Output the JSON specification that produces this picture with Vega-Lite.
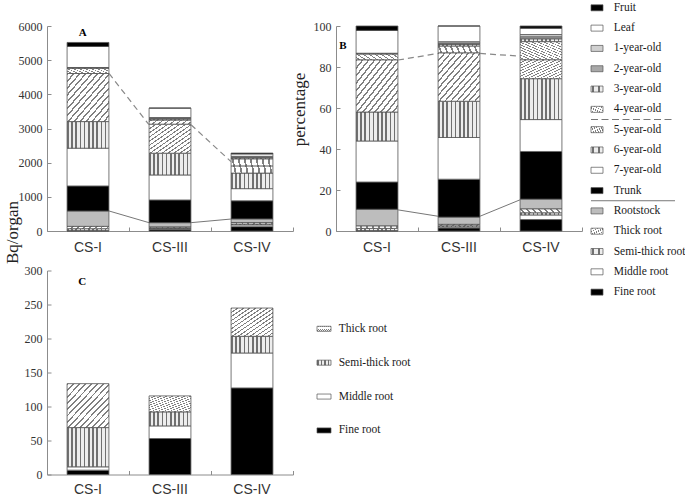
{
"$schema": "https://vega.github.io/schema/vega-lite/v6.json",
"background": "#ffffff",
"padding": {"left": 3, "top": 1, "right": 0, "bottom": 0},
"params": [
  {"name": "vsg", "value": {"gradient": "linear", "x1": 0, "y1": 0, "x2": 1, "y2": 0, "stops": [
      {"offset": 0, "color": "#707070"}, {"offset": 0.04, "color": "#707070"}, {"offset": 0.04, "color": "#ededed"}, {"offset": 0.1, "color": "#ededed"},
      {"offset": 0.1, "color": "#707070"}, {"offset": 0.14, "color": "#707070"}, {"offset": 0.14, "color": "#ededed"}, {"offset": 0.2, "color": "#ededed"},
      {"offset": 0.2, "color": "#707070"}, {"offset": 0.24, "color": "#707070"}, {"offset": 0.24, "color": "#ededed"}, {"offset": 0.3, "color": "#ededed"},
      {"offset": 0.3, "color": "#707070"}, {"offset": 0.34, "color": "#707070"}, {"offset": 0.34, "color": "#ededed"}, {"offset": 0.4, "color": "#ededed"},
      {"offset": 0.4, "color": "#707070"}, {"offset": 0.44, "color": "#707070"}, {"offset": 0.44, "color": "#ededed"}, {"offset": 0.5, "color": "#ededed"},
      {"offset": 0.5, "color": "#707070"}, {"offset": 0.54, "color": "#707070"}, {"offset": 0.54, "color": "#ededed"}, {"offset": 0.6, "color": "#ededed"},
      {"offset": 0.6, "color": "#707070"}, {"offset": 0.64, "color": "#707070"}, {"offset": 0.64, "color": "#ededed"}, {"offset": 0.7, "color": "#ededed"},
      {"offset": 0.7, "color": "#707070"}, {"offset": 0.74, "color": "#707070"}, {"offset": 0.74, "color": "#ededed"}, {"offset": 0.8, "color": "#ededed"},
      {"offset": 0.8, "color": "#707070"}, {"offset": 0.84, "color": "#707070"}, {"offset": 0.84, "color": "#ededed"}, {"offset": 0.9, "color": "#ededed"},
      {"offset": 0.9, "color": "#707070"}, {"offset": 0.94, "color": "#707070"}, {"offset": 0.94, "color": "#ededed"}, {"offset": 1, "color": "#ededed"}]}},
  {"name": "bsg", "value": {"gradient": "linear", "x1": 1, "y1": 0, "x2": 0, "y2": 1, "stops": [
      {"offset": 0, "color": "#808080"}, {"offset": 0.0214, "color": "#808080"}, {"offset": 0.0214, "color": "#ffffff"}, {"offset": 0.0714, "color": "#ffffff"},
      {"offset": 0.0714, "color": "#808080"}, {"offset": 0.0929, "color": "#808080"}, {"offset": 0.0929, "color": "#ffffff"}, {"offset": 0.1429, "color": "#ffffff"},
      {"offset": 0.1429, "color": "#808080"}, {"offset": 0.1643, "color": "#808080"}, {"offset": 0.1643, "color": "#ffffff"}, {"offset": 0.2143, "color": "#ffffff"},
      {"offset": 0.2143, "color": "#808080"}, {"offset": 0.2357, "color": "#808080"}, {"offset": 0.2357, "color": "#ffffff"}, {"offset": 0.2857, "color": "#ffffff"},
      {"offset": 0.2857, "color": "#808080"}, {"offset": 0.3071, "color": "#808080"}, {"offset": 0.3071, "color": "#ffffff"}, {"offset": 0.3571, "color": "#ffffff"},
      {"offset": 0.3571, "color": "#808080"}, {"offset": 0.3786, "color": "#808080"}, {"offset": 0.3786, "color": "#ffffff"}, {"offset": 0.4286, "color": "#ffffff"},
      {"offset": 0.4286, "color": "#808080"}, {"offset": 0.45, "color": "#808080"}, {"offset": 0.45, "color": "#ffffff"}, {"offset": 0.5, "color": "#ffffff"},
      {"offset": 0.5, "color": "#808080"}, {"offset": 0.5214, "color": "#808080"}, {"offset": 0.5214, "color": "#ffffff"}, {"offset": 0.5714, "color": "#ffffff"},
      {"offset": 0.5714, "color": "#808080"}, {"offset": 0.5929, "color": "#808080"}, {"offset": 0.5929, "color": "#ffffff"}, {"offset": 0.6429, "color": "#ffffff"},
      {"offset": 0.6429, "color": "#808080"}, {"offset": 0.6643, "color": "#808080"}, {"offset": 0.6643, "color": "#ffffff"}, {"offset": 0.7143, "color": "#ffffff"},
      {"offset": 0.7143, "color": "#808080"}, {"offset": 0.7357, "color": "#808080"}, {"offset": 0.7357, "color": "#ffffff"}, {"offset": 0.7857, "color": "#ffffff"},
      {"offset": 0.7857, "color": "#808080"}, {"offset": 0.8071, "color": "#808080"}, {"offset": 0.8071, "color": "#ffffff"}, {"offset": 0.8571, "color": "#ffffff"},
      {"offset": 0.8571, "color": "#808080"}, {"offset": 0.8786, "color": "#808080"}, {"offset": 0.8786, "color": "#ffffff"}, {"offset": 0.9286, "color": "#ffffff"},
      {"offset": 0.9286, "color": "#808080"}, {"offset": 0.95, "color": "#808080"}, {"offset": 0.95, "color": "#ffffff"}, {"offset": 1, "color": "#ffffff"}]}},
  {"name": "fsg", "value": {"gradient": "linear", "x1": 0, "y1": 0, "x2": 1, "y2": 1, "stops": [
      {"offset": 0, "color": "#808080"}, {"offset": 0.0214, "color": "#808080"}, {"offset": 0.0214, "color": "#ffffff"}, {"offset": 0.0714, "color": "#ffffff"},
      {"offset": 0.0714, "color": "#808080"}, {"offset": 0.0929, "color": "#808080"}, {"offset": 0.0929, "color": "#ffffff"}, {"offset": 0.1429, "color": "#ffffff"},
      {"offset": 0.1429, "color": "#808080"}, {"offset": 0.1643, "color": "#808080"}, {"offset": 0.1643, "color": "#ffffff"}, {"offset": 0.2143, "color": "#ffffff"},
      {"offset": 0.2143, "color": "#808080"}, {"offset": 0.2357, "color": "#808080"}, {"offset": 0.2357, "color": "#ffffff"}, {"offset": 0.2857, "color": "#ffffff"},
      {"offset": 0.2857, "color": "#808080"}, {"offset": 0.3071, "color": "#808080"}, {"offset": 0.3071, "color": "#ffffff"}, {"offset": 0.3571, "color": "#ffffff"},
      {"offset": 0.3571, "color": "#808080"}, {"offset": 0.3786, "color": "#808080"}, {"offset": 0.3786, "color": "#ffffff"}, {"offset": 0.4286, "color": "#ffffff"},
      {"offset": 0.4286, "color": "#808080"}, {"offset": 0.45, "color": "#808080"}, {"offset": 0.45, "color": "#ffffff"}, {"offset": 0.5, "color": "#ffffff"},
      {"offset": 0.5, "color": "#808080"}, {"offset": 0.5214, "color": "#808080"}, {"offset": 0.5214, "color": "#ffffff"}, {"offset": 0.5714, "color": "#ffffff"},
      {"offset": 0.5714, "color": "#808080"}, {"offset": 0.5929, "color": "#808080"}, {"offset": 0.5929, "color": "#ffffff"}, {"offset": 0.6429, "color": "#ffffff"},
      {"offset": 0.6429, "color": "#808080"}, {"offset": 0.6643, "color": "#808080"}, {"offset": 0.6643, "color": "#ffffff"}, {"offset": 0.7143, "color": "#ffffff"},
      {"offset": 0.7143, "color": "#808080"}, {"offset": 0.7357, "color": "#808080"}, {"offset": 0.7357, "color": "#ffffff"}, {"offset": 0.7857, "color": "#ffffff"},
      {"offset": 0.7857, "color": "#808080"}, {"offset": 0.8071, "color": "#808080"}, {"offset": 0.8071, "color": "#ffffff"}, {"offset": 0.8571, "color": "#ffffff"},
      {"offset": 0.8571, "color": "#808080"}, {"offset": 0.8786, "color": "#808080"}, {"offset": 0.8786, "color": "#ffffff"}, {"offset": 0.9286, "color": "#ffffff"},
      {"offset": 0.9286, "color": "#808080"}, {"offset": 0.95, "color": "#808080"}, {"offset": 0.95, "color": "#ffffff"}, {"offset": 1, "color": "#ffffff"}]}}
],
"config": {
  "view": {"stroke": null},
  "axis": {"domainColor": "#8c8c8c", "tickColor": "#8c8c8c", "labelFont": "Liberation Serif", "labelFontSize": 12, "labelColor": "#333333", "labelOverlap": false, "grid": false, "titleFont": "Liberation Serif", "titleFontWeight": "normal", "titleColor": "#222222", "titleFontSize": 17}
},
"datasets": {
  "parts": [
    {"site": "CS-I", "part": "Fine root", "ord": 1, "bq": 6.4},
    {"site": "CS-I", "part": "Middle root", "ord": 2, "bq": 4.9},
    {"site": "CS-I", "part": "Semi-thick root", "ord": 3, "bq": 57.7},
    {"site": "CS-I", "part": "Thick root", "ord": 4, "bq": 64.6},
    {"site": "CS-I", "part": "Rootstock", "ord": 5, "bq": 452},
    {"site": "CS-I", "part": "Trunk", "ord": 6, "bq": 733},
    {"site": "CS-I", "part": "7-year-old", "ord": 7, "bq": 1105},
    {"site": "CS-I", "part": "6-year-old", "ord": 8, "bq": 779},
    {"site": "CS-I", "part": "5-year-old", "ord": 9, "bq": 1407},
    {"site": "CS-I", "part": "4-year-old", "ord": 10, "bq": 150},
    {"site": "CS-I", "part": "3-year-old", "ord": 11, "bq": 10},
    {"site": "CS-I", "part": "2-year-old", "ord": 12, "bq": 8},
    {"site": "CS-I", "part": "1-year-old", "ord": 13, "bq": 8},
    {"site": "CS-I", "part": "Leaf", "ord": 14, "bq": 615},
    {"site": "CS-I", "part": "Fruit", "ord": 15, "bq": 118},
    {"site": "CS-III", "part": "Fine root", "ord": 1, "bq": 52.9},
    {"site": "CS-III", "part": "Middle root", "ord": 2, "bq": 18.6},
    {"site": "CS-III", "part": "Semi-thick root", "ord": 3, "bq": 20.6},
    {"site": "CS-III", "part": "Thick root", "ord": 4, "bq": 23.5},
    {"site": "CS-III", "part": "Rootstock", "ord": 5, "bq": 128},
    {"site": "CS-III", "part": "Trunk", "ord": 6, "bq": 665},
    {"site": "CS-III", "part": "7-year-old", "ord": 7, "bq": 732},
    {"site": "CS-III", "part": "6-year-old", "ord": 8, "bq": 636},
    {"site": "CS-III", "part": "5-year-old", "ord": 9, "bq": 850},
    {"site": "CS-III", "part": "4-year-old", "ord": 10, "bq": 115},
    {"site": "CS-III", "part": "3-year-old", "ord": 11, "bq": 30},
    {"site": "CS-III", "part": "2-year-old", "ord": 12, "bq": 25},
    {"site": "CS-III", "part": "1-year-old", "ord": 13, "bq": 25},
    {"site": "CS-III", "part": "Leaf", "ord": 14, "bq": 275},
    {"site": "CS-III", "part": "Fruit", "ord": 15, "bq": 0},
    {"site": "CS-IV", "part": "Fine root", "ord": 1, "bq": 127.3},
    {"site": "CS-IV", "part": "Middle root", "ord": 2, "bq": 51.4},
    {"site": "CS-IV", "part": "Semi-thick root", "ord": 3, "bq": 24.5},
    {"site": "CS-IV", "part": "Thick root", "ord": 4, "bq": 41.6},
    {"site": "CS-IV", "part": "Rootstock", "ord": 5, "bq": 110},
    {"site": "CS-IV", "part": "Trunk", "ord": 6, "bq": 530},
    {"site": "CS-IV", "part": "7-year-old", "ord": 7, "bq": 355},
    {"site": "CS-IV", "part": "6-year-old", "ord": 8, "bq": 455},
    {"site": "CS-IV", "part": "5-year-old", "ord": 9, "bq": 211},
    {"site": "CS-IV", "part": "4-year-old", "ord": 10, "bq": 200},
    {"site": "CS-IV", "part": "3-year-old", "ord": 11, "bq": 30},
    {"site": "CS-IV", "part": "2-year-old", "ord": 12, "bq": 25},
    {"site": "CS-IV", "part": "1-year-old", "ord": 13, "bq": 25},
    {"site": "CS-IV", "part": "Leaf", "ord": 14, "bq": 70},
    {"site": "CS-IV", "part": "Fruit", "ord": 15, "bq": 25}
  ],
  "links": [
    {"panel": "A", "kind": "solid", "from": "CS-I", "to": "CS-III", "a": 586, "b": 244},
    {"panel": "A", "kind": "solid", "from": "CS-III", "to": "CS-IV", "a": 244, "b": 350},
    {"panel": "A", "kind": "dashed", "from": "CS-I", "to": "CS-III", "a": 4610, "b": 3110},
    {"panel": "A", "kind": "dashed", "from": "CS-III", "to": "CS-IV", "a": 3110, "b": 2030},
    {"panel": "B", "kind": "solid", "from": "CS-I", "to": "CS-III", "a": 0.103, "b": 0.072},
    {"panel": "B", "kind": "solid", "from": "CS-III", "to": "CS-IV", "a": 0.072, "b": 0.152},
    {"panel": "B", "kind": "dashed", "from": "CS-I", "to": "CS-III", "a": 0.834, "b": 0.866},
    {"panel": "B", "kind": "dashed", "from": "CS-III", "to": "CS-IV", "a": 0.866, "b": 0.853}
  ],
  "legend1": [
    {"part": "Fruit", "idx": 0},
    {"part": "Leaf", "idx": 1},
    {"part": "1-year-old", "idx": 2},
    {"part": "2-year-old", "idx": 3},
    {"part": "3-year-old", "idx": 4},
    {"part": "4-year-old", "idx": 5},
    {"part": "5-year-old", "idx": 6},
    {"part": "6-year-old", "idx": 7},
    {"part": "7-year-old", "idx": 8},
    {"part": "Trunk", "idx": 9},
    {"part": "Rootstock", "idx": 10},
    {"part": "Thick root", "idx": 11},
    {"part": "Semi-thick root", "idx": 12},
    {"part": "Middle root", "idx": 13},
    {"part": "Fine root", "idx": 14}
  ],
  "legend2": [
    {"part": "Thick root", "idx": 0},
    {"part": "Semi-thick root", "idx": 1},
    {"part": "Middle root", "idx": 2},
    {"part": "Fine root", "idx": 3}
  ]
},
"resolve": {"scale": {"fill": "shared"}},
"columns": 2,
"spacing": {"row": 39.5, "column": 43},
"bounds": "flush",
"align": "all",
"concat": [
  {
    "width": 246, "height": 205,
    "resolve": {"scale": {"y": "independent"}},
    "layer": [
      {
        "data": {"name": "parts"},
        "transform": [{"stack": "bq", "groupby": ["site"], "sort": [{"field": "ord", "order": "ascending"}], "as": ["y0", "y1"]},
                      {"filter": "indexof(['3-year-old','6-year-old','Semi-thick root','5-year-old','Thick root','4-year-old'], datum.part) < 0"}],
        "mark": {"type": "bar", "stroke": "#555555", "strokeWidth": 0.8, "width": {"band": 0.51}},
        "encoding": {
          "x": {"field": "site", "type": "nominal", "sort": ["CS-I", "CS-III", "CS-IV"], "scale": {"paddingInner": 0, "paddingOuter": 0},
                "axis": {"title": null, "bandPosition": 1, "tickExtra": true, "labelOffset": 0, "tickSize": -4, "labelPadding": 13, "labelFont": "Liberation Sans", "labelFontSize": 14, "labelAngle": 0, "labelBaseline": "top"}},
          "y": {"field": "y0", "type": "quantitative", "scale": {"domain": [0, 6000], "nice": false},
                "axis": {"values": [0, 1000, 2000, 3000, 4000, 5000, 6000], "format": "d", "labelOverlap": false, "tickSize": -4, "labelPadding": 9, "title": "Bq/organ", "titleX": -35, "titleY": 206, "titleAlign": "center", "titleBaseline": "middle", "titleAngle": -90}},
          "y2": {"field": "y1"},
          "fill": {"field": "part", "type": "nominal", "legend": null,
                   "scale": {"domain": ["Fruit", "Leaf", "1-year-old", "2-year-old", "7-year-old", "Trunk", "Rootstock", "Middle root", "Fine root"],
                             "range": ["#000000", "#ffffff", "#d0d0d0", "#a8a8a8", "#ffffff", "#000000", "#bdbdbd", "#ffffff", "#000000"]}}
        }
      },
      {
        "data": {"name": "parts"},
        "transform": [{"stack": "bq", "groupby": ["site"], "sort": [{"field": "ord", "order": "ascending"}], "as": ["y0", "y1"]},
                      {"filter": "indexof(['3-year-old','6-year-old','Semi-thick root'], datum.part) >= 0"}],
        "mark": {"type": "bar", "fill": {"expr": "vsg"}, "stroke": "#555555", "strokeWidth": 0.8, "width": {"band": 0.51}},
        "encoding": {"x": {"field": "site", "type": "nominal", "sort": ["CS-I", "CS-III", "CS-IV"]}, "y": {"field": "y0", "type": "quantitative", "scale": {"domain": [0, 6000], "nice": false}, "axis": null}, "y2": {"field": "y1"}}
      },
      {
        "data": {"name": "parts"},
        "transform": [{"stack": "bq", "groupby": ["site"], "sort": [{"field": "ord", "order": "ascending"}], "as": ["y0", "y1"]},
                      {"filter": "indexof(['5-year-old','Thick root'], datum.part) >= 0"}],
        "mark": {"type": "bar", "fill": {"expr": "fsg"}, "stroke": "#555555", "strokeWidth": 0.8, "width": {"band": 0.51}},
        "encoding": {"x": {"field": "site", "type": "nominal", "sort": ["CS-I", "CS-III", "CS-IV"]}, "y": {"field": "y0", "type": "quantitative", "scale": {"domain": [0, 6000], "nice": false}, "axis": null}, "y2": {"field": "y1"}}
      },
      {
        "data": {"name": "parts"},
        "transform": [{"stack": "bq", "groupby": ["site"], "sort": [{"field": "ord", "order": "ascending"}], "as": ["y0", "y1"]},
                      {"filter": "datum.part === '4-year-old'"}],
        "mark": {"type": "bar", "fill": {"expr": "bsg"}, "stroke": "#555555", "strokeWidth": 0.8, "width": {"band": 0.51}},
        "encoding": {"x": {"field": "site", "type": "nominal", "sort": ["CS-I", "CS-III", "CS-IV"]}, "y": {"field": "y0", "type": "quantitative", "scale": {"domain": [0, 6000], "nice": false}, "axis": null}, "y2": {"field": "y1"}}
      },
      {
        "data": {"name": "links"},
        "transform": [{"filter": "datum.panel === 'A' && datum.kind === 'solid'"}],
        "mark": {"type": "rule", "color": "#777777", "strokeWidth": 1, "xOffset": 21, "x2Offset": -21},
        "encoding": {"x": {"field": "from", "type": "nominal", "sort": ["CS-I", "CS-III", "CS-IV"]}, "x2": {"field": "to"}, "y": {"field": "a", "type": "quantitative", "scale": {"domain": [0, 6000], "nice": false}, "axis": null}, "y2": {"field": "b"}}
      },
      {
        "data": {"name": "links"},
        "transform": [{"filter": "datum.panel === 'A' && datum.kind === 'dashed'"}],
        "mark": {"type": "rule", "color": "#888888", "strokeWidth": 1.2, "strokeDash": [6, 4], "xOffset": 21, "x2Offset": -21},
        "encoding": {"x": {"field": "from", "type": "nominal", "sort": ["CS-I", "CS-III", "CS-IV"]}, "x2": {"field": "to"}, "y": {"field": "a", "type": "quantitative", "scale": {"domain": [0, 6000], "nice": false}, "axis": null}, "y2": {"field": "b"}}
      },
      {
        "data": {"values": [{"letter": "A"}]},
        "mark": {"type": "text", "align": "left", "baseline": "alphabetic", "font": "Liberation Serif", "fontSize": 11, "fontWeight": "bold", "color": "#000000", "xOffset": -91.3, "yOffset": -92.3},
        "encoding": {"text": {"field": "letter"}}
      }
    ]
  },
  {
    "width": 246, "height": 205,
    "resolve": {"scale": {"y": "independent"}},
    "layer": [
      {
        "data": {"name": "parts"},
        "transform": [{"stack": "bq", "groupby": ["site"], "sort": [{"field": "ord", "order": "ascending"}], "offset": "normalize", "as": ["y0", "y1"]},
                      {"filter": "indexof(['3-year-old','6-year-old','Semi-thick root','5-year-old','Thick root','4-year-old'], datum.part) < 0"}],
        "mark": {"type": "bar", "stroke": "#555555", "strokeWidth": 0.8, "width": {"band": 0.51}},
        "encoding": {
          "x": {"field": "site", "type": "nominal", "sort": ["CS-I", "CS-III", "CS-IV"], "scale": {"paddingInner": 0, "paddingOuter": 0},
                "axis": {"title": null, "bandPosition": 1, "tickExtra": true, "labelOffset": 0, "tickSize": -4, "labelPadding": 13, "labelFont": "Liberation Sans", "labelFontSize": 14, "labelAngle": 0, "labelBaseline": "top"}},
          "y": {"field": "y0", "type": "quantitative", "scale": {"domain": [0, 1], "nice": false},
                "axis": {"values": [0, 0.2, 0.4, 0.6, 0.8, 1], "labelExpr": "format(datum.value * 100, 'd')", "labelOverlap": false, "tickSize": -4, "labelPadding": 9, "title": "percentage", "titleX": -37, "titleY": 83, "titleAlign": "center", "titleBaseline": "middle", "titleAngle": -90}},
          "y2": {"field": "y1"},
          "fill": {"field": "part", "type": "nominal", "legend": null,
                   "scale": {"domain": ["Fruit", "Leaf", "1-year-old", "2-year-old", "7-year-old", "Trunk", "Rootstock", "Middle root", "Fine root"],
                             "range": ["#000000", "#ffffff", "#d0d0d0", "#a8a8a8", "#ffffff", "#000000", "#bdbdbd", "#ffffff", "#000000"]}}
        }
      },
      {
        "data": {"name": "parts"},
        "transform": [{"stack": "bq", "groupby": ["site"], "sort": [{"field": "ord", "order": "ascending"}], "offset": "normalize", "as": ["y0", "y1"]},
                      {"filter": "indexof(['3-year-old','6-year-old','Semi-thick root'], datum.part) >= 0"}],
        "mark": {"type": "bar", "fill": {"expr": "vsg"}, "stroke": "#555555", "strokeWidth": 0.8, "width": {"band": 0.51}},
        "encoding": {"x": {"field": "site", "type": "nominal", "sort": ["CS-I", "CS-III", "CS-IV"]}, "y": {"field": "y0", "type": "quantitative", "scale": {"domain": [0, 1], "nice": false}, "axis": null}, "y2": {"field": "y1"}}
      },
      {
        "data": {"name": "parts"},
        "transform": [{"stack": "bq", "groupby": ["site"], "sort": [{"field": "ord", "order": "ascending"}], "offset": "normalize", "as": ["y0", "y1"]},
                      {"filter": "indexof(['5-year-old','Thick root'], datum.part) >= 0"}],
        "mark": {"type": "bar", "fill": {"expr": "fsg"}, "stroke": "#555555", "strokeWidth": 0.8, "width": {"band": 0.51}},
        "encoding": {"x": {"field": "site", "type": "nominal", "sort": ["CS-I", "CS-III", "CS-IV"]}, "y": {"field": "y0", "type": "quantitative", "scale": {"domain": [0, 1], "nice": false}, "axis": null}, "y2": {"field": "y1"}}
      },
      {
        "data": {"name": "parts"},
        "transform": [{"stack": "bq", "groupby": ["site"], "sort": [{"field": "ord", "order": "ascending"}], "offset": "normalize", "as": ["y0", "y1"]},
                      {"filter": "datum.part === '4-year-old'"}],
        "mark": {"type": "bar", "fill": {"expr": "bsg"}, "stroke": "#555555", "strokeWidth": 0.8, "width": {"band": 0.51}},
        "encoding": {"x": {"field": "site", "type": "nominal", "sort": ["CS-I", "CS-III", "CS-IV"]}, "y": {"field": "y0", "type": "quantitative", "scale": {"domain": [0, 1], "nice": false}, "axis": null}, "y2": {"field": "y1"}}
      },
      {
        "data": {"name": "links"},
        "transform": [{"filter": "datum.panel === 'B' && datum.kind === 'solid'"}],
        "mark": {"type": "rule", "color": "#777777", "strokeWidth": 1, "xOffset": 21, "x2Offset": -21},
        "encoding": {"x": {"field": "from", "type": "nominal", "sort": ["CS-I", "CS-III", "CS-IV"]}, "x2": {"field": "to"}, "y": {"field": "a", "type": "quantitative", "scale": {"domain": [0, 1], "nice": false}, "axis": null}, "y2": {"field": "b"}}
      },
      {
        "data": {"name": "links"},
        "transform": [{"filter": "datum.panel === 'B' && datum.kind === 'dashed'"}],
        "mark": {"type": "rule", "color": "#888888", "strokeWidth": 1.2, "strokeDash": [6, 4], "xOffset": 21, "x2Offset": -21},
        "encoding": {"x": {"field": "from", "type": "nominal", "sort": ["CS-I", "CS-III", "CS-IV"]}, "x2": {"field": "to"}, "y": {"field": "a", "type": "quantitative", "scale": {"domain": [0, 1], "nice": false}, "axis": null}, "y2": {"field": "b"}}
      },
      {
        "data": {"values": [{"letter": "B"}]},
        "mark": {"type": "text", "align": "left", "baseline": "alphabetic", "font": "Liberation Serif", "fontSize": 11, "fontWeight": "bold", "color": "#000000", "xOffset": -119.7, "yOffset": -79.7},
        "encoding": {"text": {"field": "letter"}}
      },
      {
        "data": {"name": "legend1"},
        "transform": [{"filter": "indexof(['3-year-old','6-year-old','Semi-thick root','5-year-old','Thick root','4-year-old'], datum.part) < 0"}],
        "mark": {"type": "point", "shape": "M-1,-0.5H1V0.5H-1Z", "size": 144, "filled": true, "opacity": 1, "stroke": "#555555", "strokeWidth": 0.7, "xOffset": 138},
        "encoding": {
          "y": {"field": "idx", "type": "quantitative", "scale": {"domain": [0.896, 10.99], "reverse": true, "nice": false, "zero": false}, "axis": null},
          "fill": {"field": "part", "type": "nominal", "legend": null,
                   "scale": {"domain": ["Fruit", "Leaf", "1-year-old", "2-year-old", "7-year-old", "Trunk", "Rootstock", "Middle root", "Fine root"],
                             "range": ["#000000", "#ffffff", "#d0d0d0", "#a8a8a8", "#ffffff", "#000000", "#bdbdbd", "#ffffff", "#000000"]}}
        }
      },
      {
        "data": {"name": "legend1"},
        "transform": [{"filter": "indexof(['3-year-old','6-year-old','Semi-thick root'], datum.part) >= 0"}],
        "mark": {"type": "point", "fill": {"expr": "vsg"}, "shape": "M-1,-0.5H1V0.5H-1Z", "size": 144, "filled": true, "opacity": 1, "stroke": "#555555", "strokeWidth": 0.7, "xOffset": 138},
        "encoding": {"y": {"field": "idx", "type": "quantitative", "scale": {"domain": [0.896, 10.99], "reverse": true, "nice": false, "zero": false}, "axis": null}}
      },
      {
        "data": {"name": "legend1"},
        "transform": [{"filter": "indexof(['5-year-old','Thick root'], datum.part) >= 0"}],
        "mark": {"type": "point", "fill": {"expr": "fsg"}, "shape": "M-1,-0.5H1V0.5H-1Z", "size": 144, "filled": true, "opacity": 1, "stroke": "#555555", "strokeWidth": 0.7, "xOffset": 138},
        "encoding": {"y": {"field": "idx", "type": "quantitative", "scale": {"domain": [0.896, 10.99], "reverse": true, "nice": false, "zero": false}, "axis": null}}
      },
      {
        "data": {"name": "legend1"},
        "transform": [{"filter": "datum.part === '4-year-old'"}],
        "mark": {"type": "point", "fill": {"expr": "bsg"}, "shape": "M-1,-0.5H1V0.5H-1Z", "size": 144, "filled": true, "opacity": 1, "stroke": "#555555", "strokeWidth": 0.7, "xOffset": 138},
        "encoding": {"y": {"field": "idx", "type": "quantitative", "scale": {"domain": [0.896, 10.99], "reverse": true, "nice": false, "zero": false}, "axis": null}}
      },
      {
        "data": {"name": "legend1"},
        "mark": {"type": "text", "align": "left", "baseline": "middle", "font": "Liberation Serif", "fontSize": 11.5, "color": "#1a1a1a", "xOffset": 154.7},
        "encoding": {
          "y": {"field": "idx", "type": "quantitative", "scale": {"domain": [0.896, 10.99], "reverse": true, "nice": false, "zero": false}, "axis": null},
          "text": {"field": "part"}
        }
      },
      {
        "data": {"values": [{"sep": 5.5}]},
        "mark": {"type": "point", "shape": "M-1,0H1", "size": 7056, "filled": false, "opacity": 1, "stroke": "#777777", "strokeWidth": 1, "strokeDash": [7, 3.5], "xOffset": 174},
        "encoding": {"y": {"field": "sep", "type": "quantitative", "scale": {"domain": [0.896, 10.99], "reverse": true, "nice": false, "zero": false}, "axis": null}}
      },
      {
        "data": {"values": [{"sep": 9.5}]},
        "mark": {"type": "point", "shape": "M-1,0H1", "size": 7056, "filled": false, "opacity": 1, "stroke": "#777777", "strokeWidth": 1, "xOffset": 174},
        "encoding": {"y": {"field": "sep", "type": "quantitative", "scale": {"domain": [0.896, 10.99], "reverse": true, "nice": false, "zero": false}, "axis": null}}
      }
    ]
  },
  {
    "width": 246, "height": 204,
    "resolve": {"scale": {"y": "independent"}},
    "layer": [
      {
        "data": {"name": "parts"},
        "transform": [{"filter": "datum.ord <= 4"}, {"stack": "bq", "groupby": ["site"], "sort": [{"field": "ord", "order": "ascending"}], "as": ["y0", "y1"]},
                      {"filter": "indexof(['Semi-thick root','Thick root'], datum.part) < 0"}],
        "mark": {"type": "bar", "stroke": "#555555", "strokeWidth": 0.8, "width": {"band": 0.51}},
        "encoding": {
          "x": {"field": "site", "type": "nominal", "sort": ["CS-I", "CS-III", "CS-IV"], "scale": {"paddingInner": 0, "paddingOuter": 0},
                "axis": {"title": null, "bandPosition": 1, "tickExtra": true, "labelOffset": 0, "tickSize": -4, "labelPadding": 12, "labelFont": "Liberation Sans", "labelFontSize": 14, "labelAngle": 0, "labelBaseline": "top"}},
          "y": {"field": "y0", "type": "quantitative", "scale": {"domain": [0, 300], "nice": false},
                "axis": {"values": [0, 50, 100, 150, 200, 250, 300], "format": "d", "labelOverlap": false, "tickSize": -4, "labelPadding": 9, "title": null}},
          "y2": {"field": "y1"},
          "fill": {"field": "part", "type": "nominal", "legend": null,
                   "scale": {"domain": ["Fruit", "Leaf", "1-year-old", "2-year-old", "7-year-old", "Trunk", "Rootstock", "Middle root", "Fine root"],
                             "range": ["#000000", "#ffffff", "#d0d0d0", "#a8a8a8", "#ffffff", "#000000", "#bdbdbd", "#ffffff", "#000000"]}}
        }
      },
      {
        "data": {"name": "parts"},
        "transform": [{"filter": "datum.ord <= 4"}, {"stack": "bq", "groupby": ["site"], "sort": [{"field": "ord", "order": "ascending"}], "as": ["y0", "y1"]},
                      {"filter": "datum.part === 'Semi-thick root'"}],
        "mark": {"type": "bar", "fill": {"expr": "vsg"}, "stroke": "#555555", "strokeWidth": 0.8, "width": {"band": 0.51}},
        "encoding": {
          "x": {"field": "site", "type": "nominal", "sort": ["CS-I", "CS-III", "CS-IV"]},
          "y": {"field": "y0", "type": "quantitative", "scale": {"domain": [0, 300], "nice": false}, "axis": null}, "y2": {"field": "y1"}}
      },
      {
        "data": {"name": "parts"},
        "transform": [{"filter": "datum.ord <= 4"}, {"stack": "bq", "groupby": ["site"], "sort": [{"field": "ord", "order": "ascending"}], "as": ["y0", "y1"]},
                      {"filter": "datum.part === 'Thick root'"}],
        "mark": {"type": "bar", "fill": {"expr": "fsg"}, "stroke": "#555555", "strokeWidth": 0.8, "width": {"band": 0.51}},
        "encoding": {
          "x": {"field": "site", "type": "nominal", "sort": ["CS-I", "CS-III", "CS-IV"]},
          "y": {"field": "y0", "type": "quantitative", "scale": {"domain": [0, 300], "nice": false}, "axis": null}, "y2": {"field": "y1"}}
      },
      {
        "data": {"values": [{"letter": "C"}]},
        "mark": {"type": "text", "align": "left", "baseline": "alphabetic", "font": "Liberation Serif", "fontSize": 11, "fontWeight": "bold", "color": "#000000", "xOffset": -91.7, "yOffset": -88},
        "encoding": {"text": {"field": "letter"}}
      },
      {
        "data": {"name": "legend2"},
        "transform": [{"filter": "indexof(['Semi-thick root','Thick root'], datum.part) < 0"}],
        "mark": {"type": "point", "shape": "M-1,-0.36H1V0.36H-1Z", "size": 196, "filled": true, "opacity": 1, "stroke": "#555555", "strokeWidth": 0.7, "xOffset": 154},
        "encoding": {
          "y": {"field": "idx", "type": "quantitative", "scale": {"domain": [-1.72, 4.3], "reverse": true, "nice": false, "zero": false}, "axis": null},
          "fill": {"field": "part", "type": "nominal", "legend": null,
                   "scale": {"domain": ["Fruit", "Leaf", "1-year-old", "2-year-old", "7-year-old", "Trunk", "Rootstock", "Middle root", "Fine root"],
                             "range": ["#000000", "#ffffff", "#d0d0d0", "#a8a8a8", "#ffffff", "#000000", "#bdbdbd", "#ffffff", "#000000"]}}
        }
      },
      {
        "data": {"name": "legend2"},
        "transform": [{"filter": "datum.part === 'Semi-thick root'"}],
        "mark": {"type": "point", "fill": {"expr": "vsg"}, "shape": "M-1,-0.36H1V0.36H-1Z", "size": 196, "filled": true, "opacity": 1, "stroke": "#555555", "strokeWidth": 0.7, "xOffset": 154},
        "encoding": {"y": {"field": "idx", "type": "quantitative", "scale": {"domain": [-1.72, 4.3], "reverse": true, "nice": false, "zero": false}, "axis": null}}
      },
      {
        "data": {"name": "legend2"},
        "transform": [{"filter": "datum.part === 'Thick root'"}],
        "mark": {"type": "point", "fill": {"expr": "fsg"}, "shape": "M-1,-0.36H1V0.36H-1Z", "size": 196, "filled": true, "opacity": 1, "stroke": "#555555", "strokeWidth": 0.7, "xOffset": 154},
        "encoding": {"y": {"field": "idx", "type": "quantitative", "scale": {"domain": [-1.72, 4.3], "reverse": true, "nice": false, "zero": false}, "axis": null}}
      },
      {
        "data": {"name": "legend2"},
        "mark": {"type": "text", "align": "left", "baseline": "middle", "font": "Liberation Serif", "fontSize": 11.5, "color": "#1a1a1a", "xOffset": 168.7},
        "encoding": {
          "y": {"field": "idx", "type": "quantitative", "scale": {"domain": [-1.72, 4.3], "reverse": true, "nice": false, "zero": false}, "axis": null},
          "text": {"field": "part"}
        }
      }
    ]
  }
]
}
